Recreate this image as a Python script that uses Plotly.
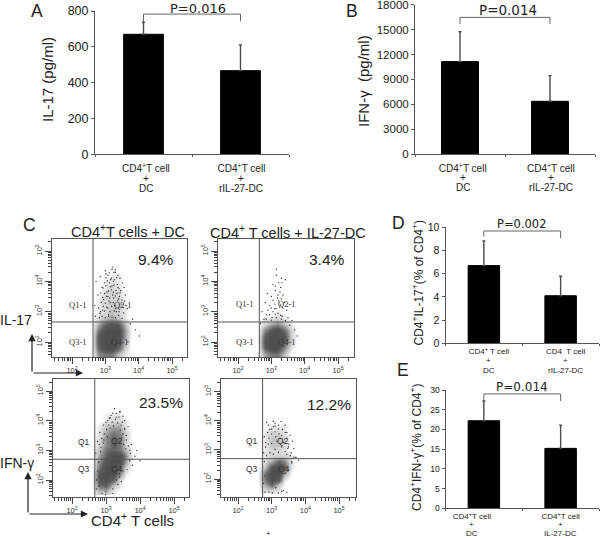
import plotly.graph_objects as go

W, H = 600, 538

# ---- bar panels -------------------------------------------------------------
A_means, A_upper = [670, 467], [737, 610]
B_means, B_upper = [11150, 6370], [14750, 9460]
D_means, D_upper = [6.7, 4.1], [8.82, 5.78]
E_means, E_upper = [22.2, 15.2], [27.2, 21.1]
A_ticks = [0, 200, 400, 600, 800]
B_ticks = [0, 3000, 6000, 9000, 12000, 15000, 18000]
D_ticks = [0, 2, 4, 6, 8, 10]
E_ticks = [0, 5, 10, 15, 20, 25, 30]
A_p, B_p, D_p, E_p = "P=0.016", "P=0.014", "P=0.002", "P=0.014"
A_cats = ["CD4<sup>+</sup>T cell", "CD4<sup>+</sup>T cell"]
A_sub = ["DC", "rIL-27-DC"]
D_cats = ["CD4<sup>+</sup> T cell", "CD4  T cell"]
D_sub = ["DC", "rIL-27-DC"]
E_sub = ["DC", "IL-27-DC"]

# ---- flow cytometry panels: density read by eye, per log10 cell ---------------
grid_x = [2.6, 2.8, 3.0, 3.2, 3.4, 3.6, 3.8]
grid_y = [1.6, 1.8, 2.0, 2.2, 2.4, 2.6, 2.8, 3.0, 3.2, 3.4, 3.6, 3.8, 4.0, 4.2, 4.4, 4.6]
C1_density = [
    [0, 5, 6, 6, 3, 1, 0], [0, 7, 9, 9, 7, 2, 0], [0, 8, 9, 9, 8, 3, 0], [0, 8, 9, 9, 9, 4, 0],
    [0, 6, 9, 9, 9, 4, 0], [0, 4, 7, 8, 7, 3, 0], [0, 2, 3, 4, 3, 1, 0], [0, 1, 2, 3, 2, 1, 0],
    [0, 1, 2, 3, 2, 1, 0], [0, 1, 2, 2, 2, 0, 0], [0, 0, 2, 2, 2, 0, 0], [0, 0, 1, 2, 1, 0, 0],
    [0, 0, 1, 1, 1, 0, 0], [0, 0, 0, 1, 1, 0, 0], [0, 0, 0, 0, 0, 0, 0], [0, 0, 0, 0, 0, 0, 0],
]
C2_density = [
    [0, 4, 6, 6, 3, 0, 0], [0, 7, 9, 9, 5, 1, 0], [0, 8, 9, 9, 7, 2, 0], [0, 7, 9, 9, 8, 2, 0],
    [0, 5, 8, 9, 6, 2, 0], [0, 2, 4, 5, 3, 1, 0], [0, 1, 1, 2, 1, 0, 0], [0, 0, 0, 1, 0, 0, 0],
    [0, 0, 0, 0, 0, 0, 0], [0, 0, 0, 0, 0, 0, 0], [0, 0, 0, 0, 0, 0, 0], [0, 0, 0, 0, 0, 0, 0],
    [0, 0, 0, 0, 0, 0, 0], [0, 0, 0, 0, 0, 0, 0], [0, 0, 0, 0, 0, 0, 0], [0, 0, 0, 0, 0, 0, 0],
]
C3_density = [
    [0, 3, 3, 1, 0, 0, 0], [0, 6, 7, 3, 1, 0, 0], [0, 8, 9, 7, 2, 0, 0], [0, 8, 9, 9, 5, 1, 0],
    [0, 6, 9, 9, 7, 2, 0], [0, 5, 8, 9, 9, 4, 0], [0, 4, 7, 9, 9, 5, 0], [0, 3, 6, 7, 6, 3, 0],
    [0, 2, 5, 7, 6, 2, 0], [0, 2, 5, 7, 6, 2, 0], [0, 1, 4, 6, 5, 2, 0], [0, 1, 3, 4, 4, 1, 0],
    [0, 0, 1, 2, 2, 1, 0], [0, 0, 1, 1, 1, 0, 0], [0, 0, 0, 0, 0, 0, 0], [0, 0, 0, 0, 0, 0, 0],
]
C4_density = [
    [0, 2, 2, 1, 0, 0, 0], [0, 4, 7, 3, 0, 0, 0], [0, 6, 9, 8, 1, 0, 0], [0, 6, 9, 9, 4, 0, 0],
    [0, 3, 8, 9, 7, 1, 0], [0, 2, 4, 7, 5, 1, 0], [0, 1, 2, 2, 2, 1, 0], [0, 1, 2, 2, 1, 0, 0],
    [0, 1, 3, 3, 2, 0, 0], [0, 1, 3, 3, 2, 0, 0], [0, 1, 2, 2, 1, 0, 0], [0, 0, 1, 1, 1, 0, 0],
    [0, 0, 0, 0, 0, 0, 0], [0, 0, 0, 0, 0, 0, 0], [0, 0, 0, 0, 0, 0, 0], [0, 0, 0, 0, 0, 0, 0],
]

# individual outlying events, read by eye
C1_dots_x = [2.72, 2.85, 3.0, 3.08, 3.22, 3.3, 3.44, 3.52, 2.9, 3.12, 3.27, 3.38, 2.78, 3.05, 3.18, 3.35,
             2.95, 3.25, 3.42, 3.6, 2.68, 3.15, 3.48, 3.66, 2.92, 3.03, 3.33, 3.1, 3.22, 3.02, 3.3, 3.16,
             3.75, 3.9, 4.02, 3.82, 2.7, 3.68, 3.58, 3.2, 3.36, 3.08, 3.28, 2.84, 3.46, 3.56,
             2.82, 2.9, 3.0, 3.1, 3.2, 3.3, 3.4, 3.5, 2.86, 2.98, 3.14, 3.27, 3.41, 3.55, 2.8, 2.94,
             3.07, 3.19, 3.31, 3.44, 2.88, 3.0, 3.11, 3.24, 3.37, 3.5, 2.92, 3.04, 3.13, 3.3, 3.4, 2.86,
             2.98, 3.1, 3.24, 3.32, 3.44, 2.93, 3.02, 3.15, 3.26, 3.41, 2.98, 3.06, 3.18, 3.24, 3.34,
             3.02, 3.12, 3.26, 3.38, 3.2]
C1_dots_y = [4.0, 4.15, 4.35, 4.2, 4.47, 4.3, 4.1, 3.95, 3.8, 3.95, 4.05, 3.8, 3.55, 3.65, 3.72, 3.6,
             3.4, 3.45, 3.5, 3.55, 3.2, 3.3, 3.25, 3.1, 3.05, 3.15, 3.0, 2.9, 3.55, 4.25, 4.38, 4.05,
             2.6, 2.4, 2.2, 2.75, 2.85, 2.0, 3.35, 3.85, 3.9, 3.5, 3.2, 2.95, 3.7, 3.8,
             2.8, 2.85, 2.8, 2.85, 2.82, 2.8, 2.88, 2.78, 3.0, 3.02, 3.0, 3.02, 3.0, 2.96, 3.12, 3.18,
             3.12, 3.18, 3.1, 3.15, 3.3, 3.28, 3.35, 3.3, 3.36, 3.38, 3.47, 3.5, 3.45, 3.52, 3.42, 3.62,
             3.6, 3.68, 3.64, 3.7, 3.62, 3.78, 3.85, 3.82, 3.88, 3.76, 3.95, 4.02, 4.1, 4.0, 4.12,
             4.12, 4.28, 4.3, 4.2, 4.4]
C2_dots_x = [3.15, 3.3, 3.42, 3.22, 3.05, 3.28, 3.12, 2.88, 3.0, 3.18, 3.35, 2.82, 2.95, 3.1, 3.25, 3.4,
             2.72, 2.9, 3.05, 3.2, 3.32, 3.5, 3.62, 3.15, 2.78, 3.02, 3.26, 3.46, 3.7, 3.78, 2.68, 3.1,
             2.86, 3.22, 3.55, 2.85, 3.0, 3.15, 3.3, 3.42, 2.95, 3.12, 3.28, 3.0, 3.14, 3.28, 3.05, 3.2,
             3.3, 3.12, 3.32]
C2_dots_y = [4.4, 4.1, 4.05, 3.95, 3.9, 3.8, 3.7, 3.6, 3.5, 3.45, 3.55, 3.3, 3.2, 3.25, 3.15, 3.3,
             3.0, 3.05, 3.0, 2.95, 2.85, 2.8, 2.7, 4.2, 2.75, 2.8, 3.65, 3.05, 2.4, 2.2, 2.6, 3.1,
             2.9, 3.35, 2.55, 2.75, 2.72, 2.8, 2.75, 2.7, 2.9, 2.92, 2.88, 3.12, 3.1, 3.22, 3.38, 3.55,
             3.42, 3.85, 3.95]
C3_dots_x = [3.25, 3.4, 3.15, 3.5, 3.05, 3.3, 3.55, 2.92, 3.65, 3.48, 3.1, 2.82, 3.6, 3.75, 2.75, 3.7,
             3.85, 2.7, 3.62, 3.78, 4.0, 3.35, 3.2, 3.45, 2.98, 2.72, 2.88, 3.0, 3.2, 3.4, 3.9, 3.55,
             2.85, 2.92, 2.88, 2.95, 3.02, 3.08, 3.18, 3.28, 3.38, 3.45, 3.55, 3.5, 3.6, 3.66, 3.72, 3.78,
             3.0, 3.12, 3.22, 3.34, 3.42, 3.04, 2.94, 2.8, 2.84, 3.58, 3.52, 3.46, 3.12, 3.2, 3.3, 3.42,
             2.8, 2.72, 2.75, 2.78, 3.4, 3.5, 3.7, 3.3]
C3_dots_y = [4.4, 4.3, 4.18, 4.15, 4.0, 4.25, 4.0, 3.85, 3.8, 3.95, 4.08, 3.6, 3.5, 3.2, 3.3, 3.0,
             2.8, 2.9, 2.35, 2.5, 2.65, 1.85, 1.55, 1.95, 1.5, 1.7, 1.55, 1.6, 1.7, 2.2, 3.0, 3.7,
             3.1, 3.25, 3.4, 3.55, 3.7, 3.85, 3.95, 4.05, 4.12, 3.85, 3.75, 3.55, 3.35, 3.15, 2.9, 2.7,
             3.95, 3.75, 3.82, 3.92, 3.68, 3.45, 3.35, 3.2, 2.95, 3.05, 3.2, 3.42, 4.1, 4.25, 4.12, 4.3,
             1.8, 2.0, 2.3, 2.6, 2.1, 2.3, 2.65, 2.0]
C4_dots_x = [2.85, 3.1, 3.28, 3.05, 3.4, 2.95, 3.2, 3.45, 2.78, 3.55, 3.62, 3.35, 2.82, 3.48, 3.72, 3.6,
             3.8, 2.76, 3.0, 3.3, 3.15, 3.5, 3.25, 2.9, 3.4, 3.05, 3.58, 3.66, 3.1, 3.3, 3.45, 2.8,
             3.2, 3.35, 3.12, 2.92, 3.02, 3.4, 2.85, 2.95, 3.1, 3.2, 3.3, 3.45, 2.82, 2.92, 3.0, 3.12,
             3.22, 3.32, 3.45, 2.88, 3.0, 3.1, 3.2, 3.32, 3.4, 2.9, 3.05, 3.5, 3.55, 3.66, 2.78, 2.8,
             2.76, 3.5, 3.6]
C4_dots_y = [3.95, 3.92, 3.98, 3.8, 3.85, 3.7, 3.72, 3.6, 3.45, 3.5, 3.3, 3.25, 3.1, 3.05, 2.75, 2.6,
             2.65, 2.9, 3.55, 3.5, 3.3, 3.2, 3.4, 3.2, 2.95, 2.85, 2.9, 3.05, 3.62, 1.58, 1.55, 1.55,
             1.52, 1.6, 1.7, 1.55, 1.52, 2.2, 2.8, 2.9, 3.02, 2.92, 3.1, 2.85, 3.25, 3.4, 3.22, 3.45,
             3.55, 3.3, 3.4, 3.6, 3.72, 3.82, 3.85, 3.7, 3.6, 3.85, 3.98, 3.1, 2.8, 2.75, 2.6, 2.1,
             1.85, 2.3, 2.55]

log_ticks = [2, 3, 4, 5]
log_labels = ["10<sup>2</sup>", "10<sup>3</sup>", "10<sup>4</sup>", "10<sup>5</sup>"]
minor_steps = [0.30, 0.48, 0.60, 0.70, 0.78, 0.85, 0.90, 0.95]
gate_x, gate_y = [2.63, 2.64, 2.67, 2.73], [2.66, 2.66, 2.7, 2.7]
percents = ["9.4%", "3.4%", "23.5%", "12.2%"]


def px(x):
    return x / W


def py(y):
    return 1 - y / H


fig = go.Figure()
layout = dict(
    width=W, height=H, margin=dict(l=0, r=0, t=0, b=0, pad=0), autosize=False,
    paper_bgcolor="white", plot_bgcolor="white", showlegend=False, template="none",
    font=dict(family="Liberation Sans, Arial, sans-serif", color="#222222"),
)
annotations, shapes = [], []


def note(text, x, y, size=10, angle=0, family=None, color="#222222"):
    annotations.append(dict(
        text=text, x=px(x), y=py(y), xref="paper", yref="paper", showarrow=False,
        xanchor="center", yanchor="middle", textangle=angle,
        font=dict(size=size, color=color, **({"family": family} if family else {}))))


def bar_panel(n, box, means, upper, ticks, ymax, cats, lab_shift, tick_size, cat_size, bracket, standoff):
    x0, x1, y_top, y_bot = box
    xa, ya = f"xaxis{n}", f"yaxis{n}"
    fig.add_trace(go.Bar(
        x=[0, 1], y=means, width=0.41, marker=dict(color="black", line=dict(color="black", width=1)),
        error_y=dict(type="data", symmetric=False, array=[u - m for u, m in zip(upper, means)],
                     arrayminus=[0, 0], color="#4a4a4a", thickness=1.4, width=1.5),
        xaxis=f"x{n}", yaxis=f"y{n}"))
    bl, br, btop = bracket
    fig.add_trace(go.Scatter(
        x=[0, 0, 1, 1], y=[bl, btop, btop, br], mode="lines", line=dict(color="#666666", width=1),
        cliponaxis=False, xaxis=f"x{n}", yaxis=f"y{n}"))
    layout[xa] = dict(
        domain=[px(x0), px(x1)], range=[-0.5, 1.5], anchor=f"y{n}", showgrid=False, zeroline=False,
        automargin=False, ticklabeloverflow="allow", showline=True, linecolor="#555555", linewidth=1,
        tickmode="array", tickvals=[lab_shift[0], 1 + lab_shift[1]], ticktext=cats, ticks="",
        ticklabelstandoff=standoff, tickfont=dict(size=cat_size, color="#222222"),
        minor=dict(tickmode="array", tickvals=[-0.5, 0.5, 1.5], ticks="outside", ticklen=2,
                   tickcolor="#555555", tickwidth=1))
    layout[ya] = dict(
        domain=[py(y_bot), py(y_top)], range=[0, ymax], anchor=f"x{n}", showgrid=False, zeroline=False,
        automargin=False, ticklabeloverflow="allow", showline=True, linecolor="#555555", linewidth=1,
        tickmode="array", tickvals=ticks, tickformat="d", ticks="outside", ticklen=3, tickcolor="#555555",
        tickfont=dict(size=tick_size, color="#222222"))


bar_panel(1, (95, 289, 11, 154.3), A_means, A_upper, A_ticks, 800, A_cats, (0.025, 0.01), 12.5, 10,
          (737, 742, 783), 5)
bar_panel(2, (415, 595, 4.7, 154.2), B_means, B_upper, B_ticks, 18000, A_cats, (0.03, 0.01), 11.5, 10,
          (15675, 15675, 16476), 5)
bar_panel(3, (445.5, 599, 227.3, 343.3), D_means, D_upper, D_ticks, 10, D_cats, (0.065, 0.065), 10.5, 8,
          (9.2, 9.05, 9.68), 0)
bar_panel(4, (445.5, 599, 390, 508.3), E_means, E_upper, E_ticks, 30, A_cats, (-0.157, 0.0), 8.5, 8,
          (27.2, 27.2, 29), 0)

# multi-line category labels: tight line spacing, so lines below the tick label are placed one by one
for cx, sub in zip((146, 241), A_sub):
    note("+", cx, 178, 10)
    note(sub, cx, 188.5, 10)
for cx, sub in zip((462.7, 551), A_sub):
    note("+", cx, 177.5, 10)
    note(sub, cx, 187.5, 10)
for cx, sub in zip((489, 565), D_sub):
    note("+", cx, 360, 8)
    note(sub, cx, 370.5, 8)
for cx, sub in zip((471.7, 560.7), E_sub):
    note("+", cx, 524, 8)
    note(sub, cx, 533, 8)


def flow_panel(n, box, xt, yt, density, dots, gx, gy, pct, pct_pos, pct_size):
    x0, x1, y0, y1 = box
    xa, ya = f"xaxis{n}", f"yaxis{n}"
    xdec = (xt[1] - xt[0]) / 3
    ydec = (yt[0] - yt[1]) / 3
    xr = [2 - (xt[0] - x0) / xdec, 5 + (x1 - xt[1]) / xdec]
    yr = [2 - (y1 - yt[0]) / ydec, 5 + (yt[1] - y0) / ydec]
    fig.add_trace(go.Heatmap(
        x=grid_x, y=grid_y, z=density, zmin=0, zmax=9, zsmooth="best", showscale=False, hoverinfo="skip",
        colorscale=[[0, "rgba(255,255,255,0)"], [0.11, "#e8e8e8"], [0.33, "#c4c4c4"], [0.55, "#8c8c8c"],
                    [0.8, "#5c5c5c"], [1, "#4e4e4e"]],
        xaxis=f"x{n}", yaxis=f"y{n}"))
    fig.add_trace(go.Scatter(
        x=dots[0], y=dots[1], mode="markers", marker=dict(size=1.4, color="#303030"),
        xaxis=f"x{n}", yaxis=f"y{n}"))
    minors = [d + s for d in [1, 2, 3, 4, 5] for s in [0] + minor_steps]
    for axis_name, domain, rng, anchor, angle in (
        (xa, [px(x0), px(x1)], xr, f"y{n}", 0),
        (ya, [py(y1), py(y0)], yr, f"x{n}", -90),
    ):
        layout[axis_name] = dict(
            domain=domain, range=rng, anchor=anchor, showgrid=False, zeroline=False, showline=True,
            automargin=False, ticklabeloverflow="allow", mirror=True, linecolor="#555555", linewidth=1,
            tickmode="array", tickvals=log_ticks, ticktext=log_labels, ticks="outside", ticklen=6,
            tickcolor="#444444", tickangle=angle, tickfont=dict(size=7.5, color="#333333"),
            minor=dict(tickmode="array", tickvals=[m for m in minors if rng[0] < m < rng[1]], ticks="outside",
                       ticklen=3, tickcolor="#444444", tickwidth=1))
    for kind in ("v", "h"):
        shapes.append(dict(
            type="line", xref=f"x{n}" if kind == "v" else f"x{n} domain",
            yref=f"y{n} domain" if kind == "v" else f"y{n}",
            x0=gx if kind == "v" else 0, x1=gx if kind == "v" else 1,
            y0=0 if kind == "v" else gy, y1=1 if kind == "v" else gy,
            line=dict(color="#555555", width=1)))
    note(pct, pct_pos[0], pct_pos[1], pct_size)


flow_panel(5, (52, 187, 239, 357), (72, 172), (342, 251), C1_density, (C1_dots_x, C1_dots_y),
           gate_x[0], gate_y[0], percents[0], (156, 259), 15.5)
flow_panel(6, (218, 354, 239, 357), (238, 338), (342, 251), C2_density, (C2_dots_x, C2_dots_y),
           gate_x[1], gate_y[1], percents[1], (327, 259), 15.5)
flow_panel(7, (53, 189, 379, 497), (72, 174), (480, 391), C3_density, (C3_dots_x, C3_dots_y),
           gate_x[2], gate_y[2], percents[2], (161, 402), 15.5)
flow_panel(8, (221, 356, 379, 497), (238, 339), (479, 391.7), C4_density, (C4_dots_x, C4_dots_y),
           gate_x[3], gate_y[3], percents[3], (329, 404), 15.5)

# quadrant names
Q = "Liberation Serif"
for t, x, y in (("Q1-1", 77, 305), ("Q2-1", 122, 305), ("Q3-1", 77, 342), ("Q4-1", 119, 342),
                ("Q1-1", 244, 304), ("Q2-1", 286, 304), ("Q3-1", 244, 342), ("Q4-1", 286, 342)):
    note(t, x, y, 8.5, family=Q, color="#333333")
for t, x, y in (("Q1", 84, 442), ("Q2", 117, 441), ("Q3", 84, 469), ("Q4", 117, 469),
                ("Q1", 252, 441), ("Q2", 283, 441), ("Q3", 252, 469), ("Q4", 284, 469)):
    note(t, x, y, 8.5, color="#333333")

# panel letters
for t, x, y in (("A", 37, 11), ("B", 352, 11), ("C", 29, 225), ("D", 398, 223), ("E", 403, 370)):
    note(t, x, y, 17.5)

# p-values
D = "DejaVu Sans"
note(A_p, 198, 8.5, 13, family=D)
note(B_p, 508, 10, 13.5, family=D)
note(D_p, 522, 224, 11.5, family=D)
note(E_p, 522, 387, 12, family=D)

# axis titles and flow captions
note("IL-17 (pg/ml)", 47, 80, 15, angle=-90)
note("IFN-γ  (pg/ml)", 364, 81, 15, angle=-90)
note("CD4<sup>+</sup>IL-17<sup>+</sup>(% of CD4<sup>+</sup>)", 417, 282.5, 12, angle=-90)
note("CD4<sup>+</sup>IFN-γ<sup>+</sup>(% of CD4<sup>+</sup>)", 416, 448, 12, angle=-90)
note("CD4<sup>+</sup>T cells + DC", 128, 231, 14.5)
note("CD4<sup>+</sup> T cells + IL-27-DC", 288, 232, 14.5)
note("IL-17", 16, 320, 14)
note("IFN-γ", 17, 463, 14)
note("CD4<sup>+</sup> T cells", 132, 519, 15)
note("+", 268, 533, 8)

# compensation-plot axis arrows
for (cx, cy, tx, ty) in ((32, 373, 32, 334), (32, 373, 83, 373), (28, 514, 28, 472), (28, 514, 88, 514)):
    annotations.append(dict(
        x=px(tx), y=py(ty), xref="paper", yref="paper", ax=cx - tx, ay=cy - ty, axref="pixel", ayref="pixel",
        text="", showarrow=True, arrowhead=2, arrowsize=1.2, arrowwidth=1.2, arrowcolor="#222222"))

layout["annotations"] = annotations
layout["shapes"] = shapes
fig.update_layout(**layout)
fig.write_html("out.html", config={"displayModeBar": False},
               post_script="document.body.style.margin='0';document.documentElement.style.overflow='hidden';")
